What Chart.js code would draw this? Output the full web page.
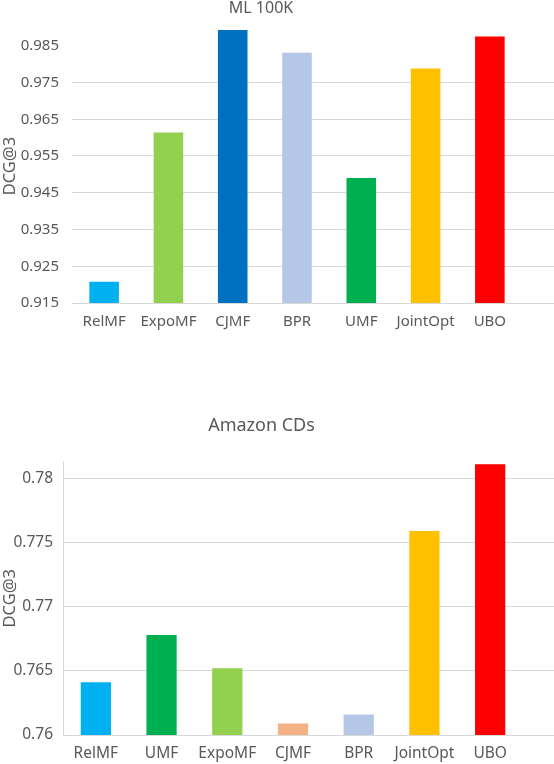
<!DOCTYPE html>
<html>
<head>
<meta charset="utf-8">
<script src="https://cdn.jsdelivr.net/npm/chart.js@4"></script>
<style>
  html, body { margin: 0; padding: 0; background: #fff; overflow: hidden; }
  #page { position: relative; width: 554px; height: 764px; overflow: hidden; }
  .box { position: absolute; left: 0; width: 554px; }
</style>
</head>
<body>
<div id="page">
  <div class="box" style="top:-12px; height:352px;"><canvas id="mlChart"></canvas></div>
  <div class="box" style="top:400px; height:373px;"><canvas id="cdChart"></canvas></div>
</div>
<script>
// --- ML 100K ---
const mlLabels = ['RelMF', 'ExpoMF', 'CJMF', 'BPR', 'UMF', 'JointOpt', 'UBO'];
const mlValues = [0.9208, 0.9614, 0.9893, 0.9831, 0.9490, 0.9788, 0.9875];
const mlColors = ['#00B0F0', '#92D050', '#0070C0', '#B4C7E7', '#00B050', '#FFC000', '#FF0000'];
const mlTicks = [0.915, 0.925, 0.935, 0.945, 0.955, 0.965, 0.975, 0.985];

// --- Amazon CDs ---
const cdLabels = ['RelMF', 'UMF', 'ExpoMF', 'CJMF', 'BPR', 'JointOpt', 'UBO'];
const cdValues = [0.7641, 0.7678, 0.7652, 0.7609, 0.7616, 0.7759, 0.7811];
const cdColors = ['#00B0F0', '#00B050', '#92D050', '#F4B183', '#B4C7E7', '#FFC000', '#FF0000'];
const cdTicks = [0.76, 0.765, 0.77, 0.775, 0.78];

const TXT = '#595959';
const GRID = '#d9d9d9';
const FONT = '"Noto Sans", "Open Sans", sans-serif';

// cuadrícula horizontal desde el eje hasta el borde derecho del lienzo
const hGrid = {
    id: 'hGrid',
    beforeDatasetsDraw(chart, args, opts) {
        const y = chart.scales.y;
        const ctx = chart.ctx;
        ctx.save();
        ctx.strokeStyle = GRID;
        ctx.lineWidth = 1;
        y.ticks.forEach(t => {
            if (opts.skip && opts.skip.includes(t.value)) return;
            const py = Math.round(y.getPixelForValue(t.value) - 0.5) + 0.5;
            ctx.beginPath();
            ctx.moveTo(chart.chartArea.left, py);
            ctx.lineTo(chart.width, py);
            ctx.stroke();
        });
        ctx.restore();
    }
};

function makeChart(id, cfg) {
    return new Chart(document.getElementById(id), {
        type: 'bar',
        data: {
            labels: cfg.labels,
            datasets: [{
                data: cfg.values,
                backgroundColor: cfg.colors,
                categoryPercentage: 1,
                barPercentage: 0.46
            }]
        },
        options: {
            responsive: true,
            maintainAspectRatio: false,
            animation: false,
            layout: { padding: cfg.padding },
            plugins: {
                legend: { display: false },
                tooltip: { enabled: false },
                title: {
                    display: true,
                    text: cfg.title,
                    color: TXT,
                    font: { family: FONT, size: cfg.titleSize, weight: 'normal' },
                    padding: cfg.titlePad
                },
                hGrid: { skip: cfg.skipGrid || [] }
            },
            scales: {
                x: {
                    grid: { display: false, drawTicks: false },
                    border: { display: true, color: GRID, width: 1 },
                    ticks: { color: TXT, font: { family: FONT, size: cfg.fontSize }, padding: cfg.xPad, maxRotation: 0, autoSkip: false }
                },
                y: {
                    min: cfg.min,
                    max: cfg.max,
                    afterBuildTicks: s => { s.ticks = cfg.ticks.map(v => ({ value: v })); },
                    afterFit: s => { s.width = cfg.yWidth; },
                    grid: { display: false, drawTicks: false },
                    border: { display: cfg.yBorder, color: GRID, width: 1 },
                    ticks: {
                        color: TXT,
                        font: { family: FONT, size: cfg.fontSize },
                        padding: cfg.yPad,
                        callback: v => cfg.fmt(v)
                    },
                    title: {
                        display: true,
                        text: 'DCG@3',
                        color: TXT,
                        font: { family: FONT, size: 16.5 },
                        padding: 0
                    }
                }
            }
        },
        plugins: [hGrid]
    });
}

makeChart('mlChart', {
    labels: mlLabels, values: mlValues, colors: mlColors, ticks: mlTicks,
    title: 'ML 100K', titleSize: 16, titlePad: { top: 11, bottom: 11 },
    min: 0.915, max: 0.9895, fontSize: 15, xPad: 9.5, yPad: 13, yWidth: 72,
    yBorder: false, skipGrid: [0.985],
    padding: { left: 0, right: 32, top: 0, bottom: 0 },
    fmt: v => v.toFixed(3)
});

makeChart('cdChart', {
    labels: cdLabels, values: cdValues, colors: cdColors, ticks: cdTicks,
    title: 'Amazon CDs', titleSize: 18, titlePad: { top: 15, bottom: 25 },
    min: 0.76, max: 0.7813, fontSize: 15.5, xPad: 9.7, yPad: 10, yWidth: 63,
    yBorder: true,
    padding: { left: 0, right: 31, top: 0, bottom: 0 },
    fmt: v => String(parseFloat(v.toFixed(3)))
});
</script>
</body>
</html>
